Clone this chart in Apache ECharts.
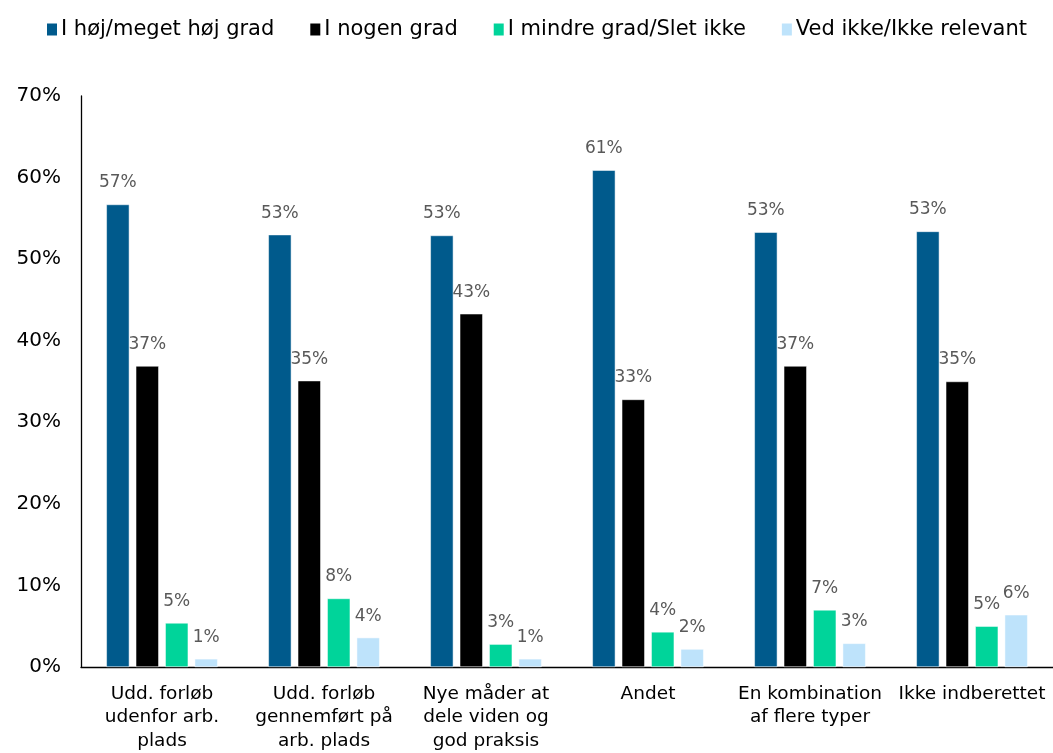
<!DOCTYPE html>
<html>
<head>
<meta charset="utf-8">
<script src="https://cdn.jsdelivr.net/npm/echarts@6/dist/echarts.min.js"></script>
<style>
html,body{margin:0;padding:0;background:#fff;}
#chart{width:1053px;height:753px;}
</style>
</head>
<body>
<div id="chart"></div>
<script>
const categories = [
  'Udd. forløb\nudenfor arb.\nplads',
  'Udd. forløb\ngennemført på\narb. plads',
  'Nye måder at\ndele viden og\ngod praksis',
  'Andet',
  'En kombination\naf flere typer',
  'Ikke indberettet'
];
const seriesNames = ['I høj/meget høj grad', 'I nogen grad', 'I mindre grad/Slet ikke', 'Ved ikke/Ikke relevant'];
const hoej = [56.7, 53.0, 52.9, 60.9, 53.3, 53.4];
const nogen = [36.9, 35.1, 43.3, 32.8, 36.9, 35.0];
const mindre = [5.4, 8.4, 2.8, 4.3, 7.0, 5.0];
const vedIkke = [1.0, 3.6, 1.0, 2.2, 2.9, 6.4];
const yTicks = [0, 10, 20, 30, 40, 50, 60, 70];

const colors = ['#005A8C', '#000000', '#00D49A', '#BEE3FB'];
const values = [hoej, nogen, mindre, vedIkke];
const font = 'DejaVu Sans, sans-serif';

const chart = echarts.init(document.getElementById('chart'));
chart.setOption({
  animation: false,
  textStyle: { fontFamily: font },
  legend: {
    top: 14,
    left: 40,
    itemWidth: 12,
    itemHeight: 14,
    itemGap: 34,
    icon: 'rect',
    textStyle: { fontSize: 21, color: '#000', fontFamily: font, padding: [0, 0, 0, -2] },
    data: seriesNames
  },
  grid: { left: 81, right: 0, top: 96, bottom: 86, containLabel: false },
  xAxis: {
    type: 'category',
    data: categories,
    axisLine: { lineStyle: { color: '#000', width: 1.3 } },
    axisTick: { show: false },
    axisLabel: { color: '#000', fontSize: 18.5, lineHeight: 23.5, margin: 15, interval: 0, fontFamily: font }
  },
  yAxis: {
    type: 'value',
    min: yTicks[0],
    max: yTicks[yTicks.length - 1],
    interval: 10,
    splitLine: { show: false },
    axisLine: { show: true, lineStyle: { color: '#000', width: 1.3 } },
    axisTick: { show: false },
    axisLabel: { color: '#000', fontSize: 20, margin: 20, formatter: v => v + '%', fontFamily: font }
  },
  series: seriesNames.map((name, i) => ({
    name: name,
    type: 'bar',
    data: values[i],
    barWidth: 23,
    barGap: '28%',
    itemStyle: { color: colors[i], borderColor: '#fff', borderWidth: 0.5 },
    label: {
      show: true,
      position: 'top',
      distance: 13,
      color: '#595959',
      fontSize: 17,
      fontFamily: font,
      formatter: p => Math.round(p.value) + '%'
    }
  }))
});
</script>
</body>
</html>
